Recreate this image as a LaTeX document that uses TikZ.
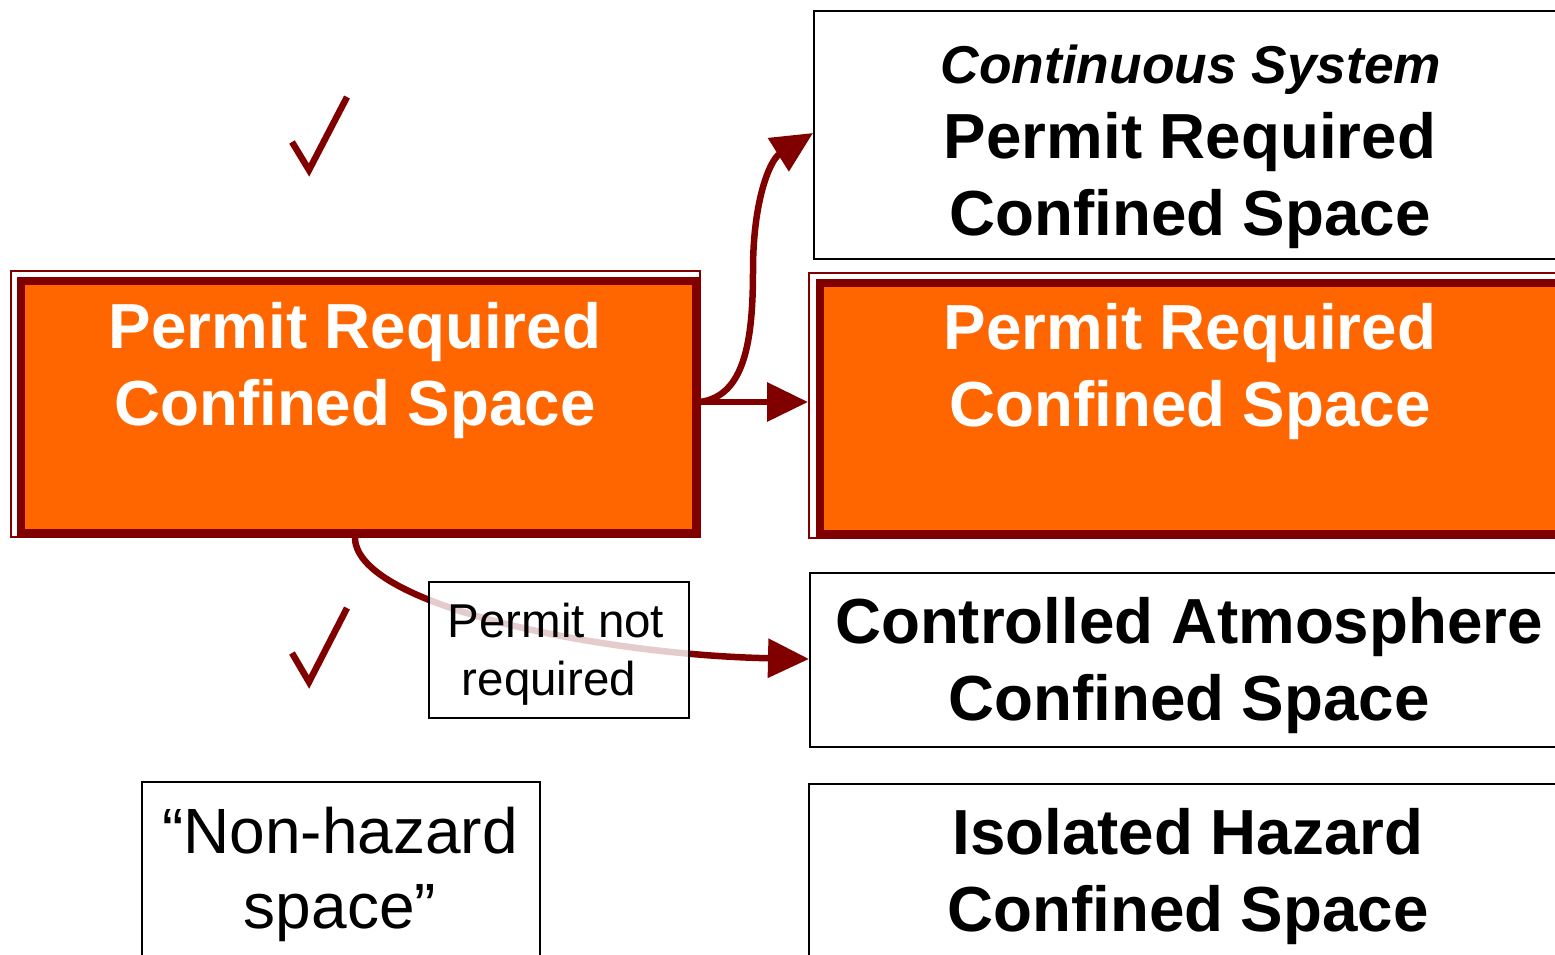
\documentclass[tikz,border=0pt]{standalone}
\usepackage{fontspec}
\setmainfont{Liberation Sans}
\usetikzlibrary{arrows.meta}
\definecolor{deepred}{HTML}{800000}
\definecolor{permitorange}{HTML}{FF6600}

\begin{document}
\begin{tikzpicture}[x=1pt,y=-1pt,
  plainbox/.style={draw=black, line width=2pt, fill=white, inner sep=0pt, anchor=north west},
  frameout/.style={draw=deepred, line width=1.5pt, fill=white, inner sep=0pt, anchor=north west},
  framein/.style={draw=deepred, line width=8pt, fill=permitorange, inner sep=0pt, anchor=north west},
  bigtext/.style={font=\fontsize{63.7}{77}\selectfont\bfseries, align=center, anchor=base, inner sep=0pt},
  whitetext/.style={bigtext, text=white},
  flow/.style={draw=deepred, line width=6.5pt, -{Triangle[length=41pt,width=38pt]}},
  tick/.style={draw=deepred, line width=6.5pt, line join=miter}
]
\useasboundingbox (0,0) rectangle (1555,954);
\clip (0,0) rectangle (1555,954);

% right column (text nodes are placed by the baseline of their last line)
\node[plainbox, minimum width=800pt, minimum height=248pt] (cont) at (813,10) {};
\node[font=\fontsize{53.3}{60}\selectfont\bfseries\itshape, anchor=base, inner sep=0pt] (contTitle) at (1191,83) {Continuous System};
\node[bigtext] (contText) at (1190,235) {Permit Required\\Confined Space};

\node[frameout, minimum width=800pt, minimum height=265pt] (prcsOut) at (808,272) {};
\node[framein, minimum width=800pt, minimum height=251pt] (prcsIn) at (816,279) {};
\node[whitetext] (prcsText) at (1190,426) {Permit Required\\Confined Space};

\node[plainbox, minimum width=800pt, minimum height=174pt] (cacs) at (809,572) {};
\node[bigtext] (cacsText) at (1189,720) {Controlled Atmosphere\\Confined Space};

\node[plainbox, minimum width=800pt, minimum height=250pt] (ihcs) at (808,783) {};
\node[bigtext] (ihcsText) at (1188,931) {Isolated Hazard\\Confined Space};

% left column
\node[frameout, minimum width=689pt, minimum height=266pt] (mainOut) at (10,270) {};
\node[framein, minimum width=675pt, minimum height=252pt] (mainIn) at (17,277) {};
\node[whitetext] (mainText) at (355,425) {Permit Required\\Confined Space};

\node[plainbox, minimum width=398pt, minimum height=250pt] (nonhaz) at (141,781) {};
\node[font=\fontsize{64}{75}\selectfont, align=center, anchor=base, inner sep=0pt] (nonhazText) at (340,928) {“Non-hazard\\space”};

% check marks
\draw[tick] (292,142) -- (309,170) -- (347,97);
\draw[tick] (292,653) -- (309,682) -- (347,608);

% connectors
\coordinate (split) at (700,402);
\coordinate (drop) at (355,536);
\draw[flow] (split) -- (prcsOut.west |- split);
\draw[flow] (split) .. controls (745,396) and (753,340) .. (753,270)
  .. controls (753,200) and (770,160) .. (cont.west |- 0,133);
\draw[flow] (drop) .. controls (352,605) and (600,655) .. (cacs.west |- 0,659);

% label over the lower connector
\node[draw=black, line width=2pt, fill=white, fill opacity=0.8, text opacity=1,
  anchor=north west, minimum width=260pt, minimum height=136pt, inner sep=0pt] (noPermit) at (428,581) {};
\node[font=\fontsize{47.5}{58}\selectfont, align=center, anchor=base, inner sep=0pt] (noPermitText) at (556,695) {Permit not\\required\kern14pt};
\end{tikzpicture}
\end{document}
